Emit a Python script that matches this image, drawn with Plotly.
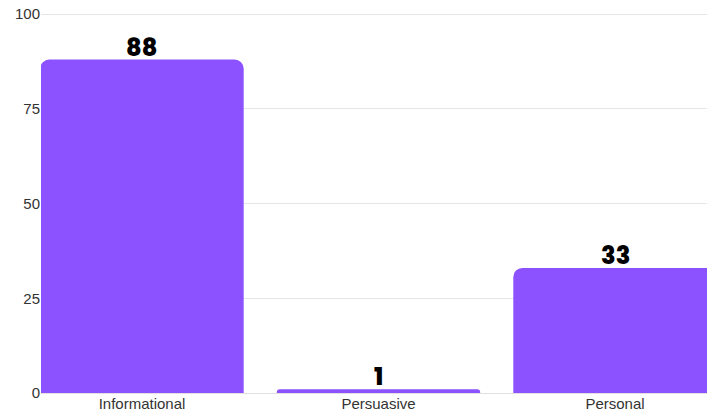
import plotly.graph_objects as go

categories = ["Informational", "Persuasive", "Personal"]
values = [88, 1, 33]
y_ticks = [0, 25, 50, 75, 100]

fig = go.Figure(
    go.Bar(
        x=categories,
        y=values,
        marker=dict(color="#8c52ff", line=dict(width=0)),
        width=0.86,
        hoverinfo="x+y",
    )
)

for c, v in zip(categories, values):
    fig.add_annotation(
        x=c, y=v, text=str(v), showarrow=False,
        yanchor="bottom", yshift=-6,
        font=dict(family="Poppins, Inter, sans-serif", size=24, color="#000000", weight=800),
    )

fig.update_layout(
    width=707,
    height=412,
    margin=dict(l=41, r=0, t=12, b=19),
    paper_bgcolor="white",
    plot_bgcolor="white",
    barcornerradius=9,
    showlegend=False,
    xaxis=dict(
        range=[-0.427, 2.389],
        showgrid=False,
        showline=False,
        zeroline=False,
        tickfont=dict(family="Liberation Sans, Arial, sans-serif", size=15, color="#333333"),
        ticks="",
    ),
    yaxis=dict(
        range=[0, 100.55],
        tickvals=y_ticks,
        showgrid=True,
        gridcolor="#e6e6e6",
        gridwidth=1,
        zeroline=True,
        zerolinecolor="#e0e0e0",
        zerolinewidth=1,
        showline=False,
        ticks="",
        tickfont=dict(family="Liberation Sans, Arial, sans-serif", size=15, color="#333333"),
    ),
)

fig.write_html("out.html")
